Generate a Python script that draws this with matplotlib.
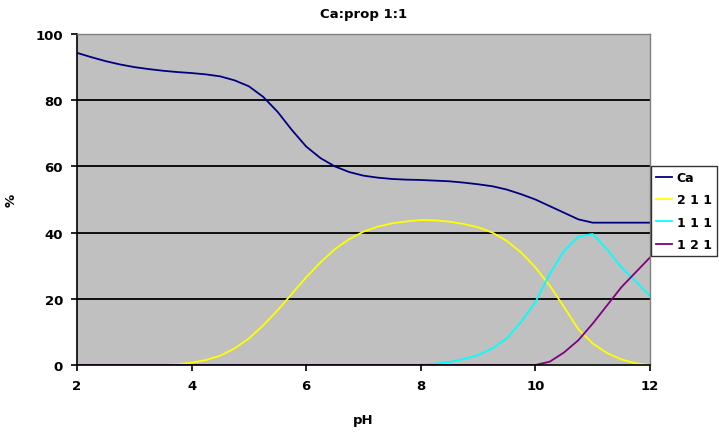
import numpy as np
import matplotlib
matplotlib.use("Agg")
import matplotlib.pyplot as plt

plt.rcParams['font.family'] = ['DejaVu Sans']

# pH grid and species distribution (%)
ph = [2.0, 2.25, 2.5, 2.75, 3.0, 3.25, 3.5, 3.75, 4.0, 4.25,
      4.5, 4.75, 5.0, 5.25, 5.5, 5.75, 6.0, 6.25, 6.5, 6.75,
      7.0, 7.25, 7.5, 7.75, 8.0, 8.25, 8.5, 8.75, 9.0, 9.25,
      9.5, 9.75, 10.0, 10.25, 10.5, 10.75, 11.0, 11.25, 11.5, 11.75, 12.0]

ca = [94.3, 93.0, 91.8, 90.8, 90.0, 89.4, 88.9, 88.5, 88.2, 87.8,
      87.2, 86.0, 84.2, 81.0, 76.5, 71.0, 66.0, 62.5, 60.0, 58.3,
      57.2, 56.6, 56.2, 56.0, 55.9, 55.7, 55.5, 55.1, 54.6, 54.0,
      53.0, 51.6, 50.0, 48.0, 46.0, 44.0, 43.0, 43.0, 43.0, 43.0, 43.0]

s211 = [0, 0, 0, 0, 0, 0, 0, 0.2, 0.7, 1.5,
        2.8, 5.0, 8.0, 12.0, 16.5, 21.5, 26.5, 31.0, 35.0, 38.0,
        40.3, 41.8, 42.8, 43.4, 43.8, 43.7, 43.3, 42.6, 41.6, 40.0,
        37.5, 34.0, 29.5, 24.0, 17.5, 10.8, 6.5, 3.6, 1.7, 0.5, 0.0]

s111 = [0, 0, 0, 0, 0, 0, 0, 0, 0, 0,
        0, 0, 0, 0, 0, 0, 0, 0, 0, 0,
        0, 0, 0, 0, 0.1, 0.4, 0.9, 1.8, 3.0, 5.0,
        8.0, 13.0, 19.0, 27.5, 34.5, 38.8, 39.6, 35.0, 29.5, 25.3, 20.8]

s121 = [0, 0, 0, 0, 0, 0, 0, 0, 0, 0,
        0, 0, 0, 0, 0, 0, 0, 0, 0, 0,
        0, 0, 0, 0, 0, 0, 0, 0, 0, 0,
        0, 0, 0, 1.0, 3.8, 7.5, 12.5, 18.0, 23.5, 28.0, 32.5]

fig = plt.figure(figsize=(7.19, 4.35), dpi=100)
ax = fig.add_axes([77/719, 69/435, 573/719, 331/435])
ax.set_facecolor('#C0C0C0')

ax.plot(ph, ca, color='#000080', lw=1.3, label='Ca')
ax.plot(ph, s211, color='#FFFF00', lw=1.3, label='2 1 1')
ax.plot(ph, s111, color='#00FFFF', lw=1.3, label='1 1 1')
ax.plot(ph, s121, color='#800080', lw=1.3, label='1 2 1')

ax.set_xlim(2, 12)
ax.set_ylim(0, 100)
ax.set_xticks([2, 4, 6, 8, 10, 12])
ax.set_yticks([0, 20, 40, 60, 80, 100])
for y in [20, 40, 60, 80]:
    ax.axhline(y, color='black', lw=1.3, zorder=0.5)

for s in ['left', 'bottom']:
    ax.spines[s].set_color('black')
    ax.spines[s].set_linewidth(1.2)
for s in ['top', 'right']:
    ax.spines[s].set_color('#808080')
    ax.spines[s].set_linewidth(1.0)

ax.tick_params(direction='out', length=4, width=1.2, pad=6, labelsize=9.5)
for lab in ax.get_xticklabels() + ax.get_yticklabels():
    lab.set_fontweight('bold')

ax.set_title('Ca:prop 1:1', fontsize=9.5, fontweight='bold', pad=12)
ax.set_xlabel('pH', fontsize=9.5, fontweight='bold', labelpad=15)
ax.set_ylabel('%', fontsize=9.5, fontweight='bold')
ax.yaxis.set_label_coords(-59/573, 0.5)

leg = fig.legend(loc='upper left', bbox_to_anchor=(651/719, 1 - 167/435),
                 frameon=True, fancybox=False, edgecolor='black',
                 prop={'weight': 'bold', 'size': 9},
                 handlelength=1.3, handletextpad=0.35, labelspacing=0.75,
                 borderpad=0.4, borderaxespad=0)
leg.get_frame().set_linewidth(1.0)

fig.savefig('out.png', dpi=100)
